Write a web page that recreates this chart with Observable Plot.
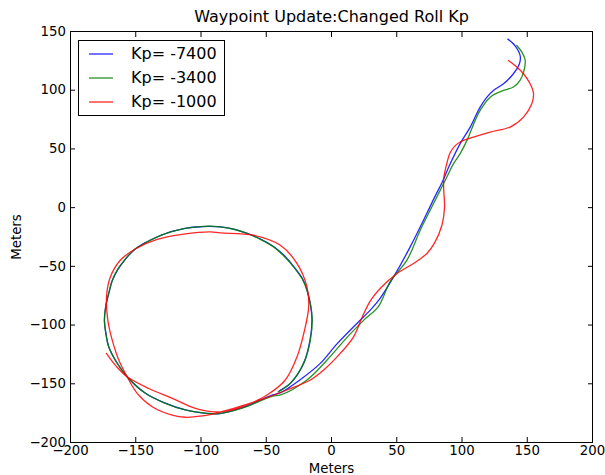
<!DOCTYPE html>
<html>
<head>
<meta charset="utf-8">
<script src="https://cdn.jsdelivr.net/npm/d3@7"></script>
<script src="https://cdn.jsdelivr.net/npm/@observablehq/plot@0.6"></script>
<style>
  html, body { margin: 0; padding: 0; background: #fff; }
  #wrap { position: relative; width: 605px; height: 475px; font-family: "DejaVu Sans", sans-serif; }
  #legend { position: absolute; left: 78px; top: 40px; width: 147px; height: 76px; border: 1px solid #000; background: #fff; box-sizing: border-box; }
  .row { position: absolute; left: 0; height: 20px; width: 100%; }
  .row svg { position: absolute; left: 10px; top: 0; }
  .row span { position: absolute; left: 52px; top: 0; line-height: 20px; font-size: 16px; color: #000; white-space: nowrap; }
</style>
</head>
<body>
<div id="wrap"><div id="legend"></div></div>
<script>
// ---- data ----
const title = "Waypoint Update:Changed Roll Kp";
const xLabel = "Meters";
const yLabel = "Meters";
const xTicks = [-200, -150, -100, -50, 0, 50, 100, 150, 200];
const yTicks = [-200, -150, -100, -50, 0, 50, 100, 150];
const seriesNames = ["Kp= -7400", "Kp= -3400", "Kp= -1000"];
const seriesColors = ["#0000ff", "#008000", "#ff0000"];

// Kp = -7400 (blue): loop, then exit towards the waypoint
const kp7400 = [
  [-40,-156],[-31,-149],[-21.5,-133],[-16.5,-113],[-15,-94],[-18.5,-71],[-22,-61],[-28.8,-50.5],
  [-36,-41],[-44,-33.5],[-54,-27],[-64.5,-22],[-75,-18.2],[-85,-16.4],[-94,-16],[-103,-16.5],
  [-113,-17.8],[-123,-20.5],[-133.5,-25],[-143,-30],[-151.5,-36.2],[-158,-44],[-164,-53.2],
  [-168,-62],[-170.7,-73],[-173,-84],[-174,-96],[-173,-106],[-170.7,-118.5],[-165,-131],
  [-156.6,-144],[-142.6,-158],[-127.3,-166.5],[-112,-172.3],[-96.6,-175.2],[-88,-175.6],
  [-75,-172.6],[-64,-168.6],[-54,-163.6],[-45,-159.5],[-39,-157.5],[-24,-146.5],[-8.6,-132.6],
  [4.2,-116],[19.5,-98.6],[29.7,-87.3],[37.4,-77],[47.6,-59],[60.3,-33.4],[73,-5],[79.5,10],
  [85,22],[90,35],[98.6,54.5],[106.3,68.6],[113.9,85.6],[119.1,94.1],[124.1,99.8],[131.8,105.5],
  [139.4,114],[144,122.5],[144.6,129.3],[140.7,137.8],[135.1,143.5]
];

// Kp = -3400 (green)
const kp3400 = [
  [-41,-157],[-31.5,-149.6],[-21.4,-132.6],[-16.2,-112.8],[-14.9,-93],[-18.8,-70.3],[-22.5,-60.5],
  [-29,-50.4],[-36.5,-41.2],[-44.3,-33.4],[-54,-27.2],[-64.7,-22],[-75,-18.4],[-85.2,-16.4],
  [-94,-15.8],[-103,-16.3],[-113.2,-17.8],[-123,-20.6],[-133.6,-24.9],[-143,-30.2],[-151.5,-36.2],
  [-158.2,-44],[-164.2,-53.2],[-168,-62.3],[-170.7,-73.1],[-173,-84],[-174,-95.8],[-173,-106.5],
  [-170.7,-118.5],[-165,-131.2],[-156.6,-144],[-142.6,-158.1],[-127.3,-166.6],[-112,-172.3],
  [-96.6,-175.1],[-88,-175.6],[-75,-172.8],[-64,-169],[-54.5,-164.5],[-45,-160.5],[-39,-159.5],
  [-18.8,-146.8],[-3.4,-129.8],[11.9,-110.5],[24.6,-96],[36,-84],[45,-63],[57.8,-44.7],
  [68,-19.2],[78.2,3.5],[88.4,26.1],[93.5,37.5],[98.6,46],[103.8,57.3],[110.1,74.3],[113.9,82.8],
  [121.6,94.1],[131.8,99.8],[139.4,102.7],[144.6,108.6],[147.6,117.1],[148.4,125.6],
  [145.9,132.4],[142,138.1]
];

// Kp = -1000 (red)
const kp1000 = [
  [-172.5,-124.1],[-165,-135],[-156.6,-144],[-140,-154],[-122,-162.4],[-104.3,-171],[-89,-174],
  [-75,-172],[-64.7,-168],[-49.4,-159.6],[-35.4,-146.8],[-26.4,-127],[-21,-106],[-17.5,-84.5],
  [-18.8,-67.4],[-26.4,-47.6],[-39.2,-32],[-59.6,-23.5],[-85.2,-21.5],[-92.8,-20.7],
  [-113.2,-22.6],[-133.6,-27.1],[-150,-35],[-161.7,-44.6],[-169.4,-58.9],[-172.4,-75.9],
  [-171.4,-95.8],[-169.4,-107],[-163,-129.8],[-156.6,-144],[-148.9,-158.1],[-137.4,-169.5],
  [-122.1,-176.6],[-112,-178.5],[-99.2,-177.4],[-89,-175.1],[-75,-170.9],[-54.5,-163.8],
  [-34.1,-155.3],[-16.2,-146.8],[-6,-138.3],[6.7,-124.1],[16.9,-110],[24,-92],[30,-79],
  [38,-68],[50.2,-56],[62.9,-47.5],[73.1,-39],[79,-30],[84.6,-15],[86.6,0],[86,15],[86,25],
  [88,36],[91,47],[95,53],[98.6,55.9],[108.8,60.1],[121.6,64.4],[136.9,68.6],[147.1,77.1],
  [153.5,88.5],[154.8,97],[152.2,105.5],[147.1,114],[142,119.7],[135.6,125.3]
];

const seriesData = [kp7400, kp3400, kp1000];

// ---- build chart ----
const rows = seriesData.map((pts, i) => pts.map(([x, y]) => ({x, y, s: seriesNames[i]})));

const lineMarks = rows.map(r => Plot.line(r, {
  x: "x", y: "y", stroke: "s", strokeWidth: 1.3, strokeOpacity: 0.85, curve: "catmull-rom"
}));

const chart = Plot.plot({
  width: 605,
  height: 475,
  marginLeft: 70,
  marginRight: 13,
  marginTop: 31,
  marginBottom: 33,
  style: {fontFamily: "DejaVu Sans, sans-serif", fontSize: "13.3px", color: "#000", background: "#fff"},
  x: {domain: [-200, 200]},
  y: {domain: [-200, 150]},
  color: {domain: seriesNames, range: seriesColors},
  marks: [
    ...lineMarks,
    Plot.frame({stroke: "#000", strokeWidth: 1}),
    Plot.axisX({ticks: xTicks, tickSize: -5, tickPadding: 8, label: xLabel, labelAnchor: "center", labelArrow: "none", labelOffset: 30, fontSize: 13.3}),
    Plot.axisX({anchor: "top", ticks: xTicks, tickSize: -5, tickFormat: () => "", label: null}),
    Plot.axisY({ticks: yTicks, tickSize: -5, tickPadding: 9.5, label: yLabel, labelAnchor: "center", labelArrow: "none", labelOffset: 59, fontSize: 13.3}),
    Plot.axisY({anchor: "right", ticks: yTicks, tickSize: -5, tickFormat: () => "", label: null}),
    Plot.text([title], {frameAnchor: "top", text: d => d, dy: -10, lineAnchor: "bottom", fontSize: 16, fill: "#000"})
  ]
});

const wrap = document.getElementById("wrap");
wrap.insertBefore(chart, wrap.firstChild);

// legend overlay
const legend = document.getElementById("legend");
seriesNames.forEach((name, i) => {
  const row = document.createElement("div");
  row.className = "row";
  row.style.top = (3 + i * 24) + "px";
  row.innerHTML = `<svg width="26" height="20"><line x1="0" x2="24" y1="10" y2="10" stroke="${seriesColors[i]}" stroke-width="1.3" stroke-opacity="0.85"/></svg><span>${name}</span>`;
  legend.appendChild(row);
});
</script>
</body>
</html>
